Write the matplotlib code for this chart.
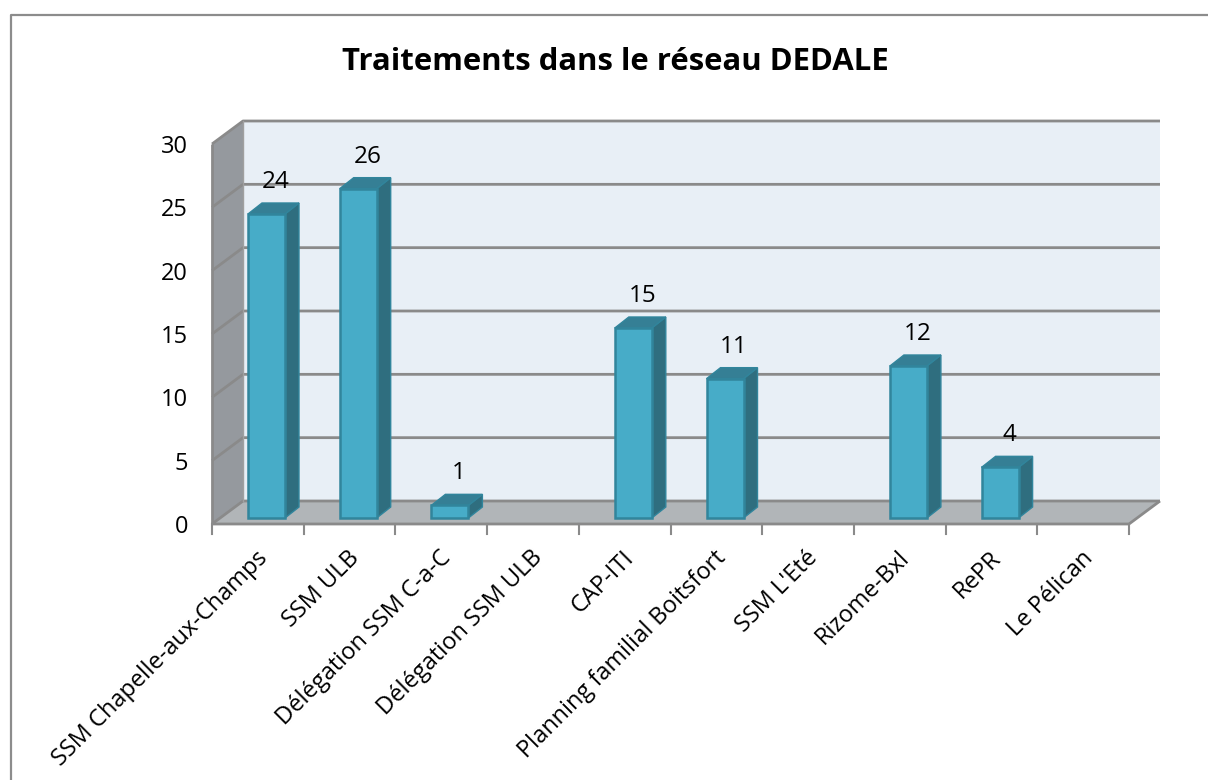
"""Traitements dans le reseau DEDALE, fake 3D columns.
"""
import matplotlib
matplotlib.use('Agg')
import matplotlib.pyplot as plt
from matplotlib.patches import Polygon

categories = ['SSM Chapelle-aux-Champs', 'SSM ULB', 'Délégation SSM C-a-C',
              'Délégation SSM ULB', 'CAP-ITI', 'Planning familial Boitsfort',
              "SSM L'Eté", 'Rizome-Bxl', 'RePR', 'Le Pélican']
values = [24, 26, 1, 0, 15, 11, 0, 12, 4, 0]
y_ticks = [0, 5, 10, 15, 20, 25, 30]

W, H = 1208, 780
plt.rcParams['font.family'] = ['Open Sans', 'DejaVu Sans']

fig = plt.figure(figsize=(W / 100, H / 100), dpi=100)
# only left and top of the frame are visible
fig.add_artist(plt.Line2D([11 / W, 11 / W, 1208 / W], [0, 1 - 15 / H, 1 - 15 / H],
                          color='#8c8c8c', lw=1.6))

# axes sit on the front plane of the 3D box
ax = fig.add_axes([212 / W, 1 - 524 / H, (1129 - 212) / W, 380 / H])
n = len(categories)
ax.set_xlim(0, n)
ax.set_ylim(0, 30)
ax.axis('off')

px = n / 917  # one pixel in x units
py = 30 / 380  # one pixel in y units
depth_x = 31 * px
depth_y = 23 * py


def poly(points, fc, ec='none', lw=0, z=1):
    ax.add_patch(Polygon(points, closed=True, fc=fc, ec=ec, lw=lw, zorder=z,
                         clip_on=False))


# back wall, side wall, floor
poly([(depth_x, depth_y), (n + depth_x, depth_y), (n + depth_x, 30 + depth_y),
      (depth_x, 30 + depth_y)], '#e8eff6')
poly([(0, 0), (depth_x, depth_y), (depth_x, 30 + depth_y), (0, 30)], '#95999e')
poly([(0, 0), (n, 0), (n + depth_x, depth_y), (depth_x, depth_y)], '#b1b5b8')

line = dict(color='#8a8a8a', lw=2, clip_on=False, zorder=2,
            solid_capstyle='butt')
for t in y_ticks:
    ax.plot([0, depth_x, n + depth_x], [t, t + depth_y, t + depth_y], **line)
ax.plot([0, 0], [0, 30], **line)
ax.plot([depth_x, depth_x], [depth_y, 30 + depth_y], color='#a0a0a0', lw=1,
        clip_on=False, zorder=2)
ax.plot([0, n, n + depth_x], [0, 0, depth_y], **line)

# ticks
for i in range(n + 1):
    ax.plot([i, i], [0, -10 * py], color='#8a8a8a', lw=1.5, clip_on=False)
for t in y_ticks:
    ax.text(-24 * px, t - 3 * py, str(t), ha='right', va='center', fontsize=17)

# columns
bar_left = 36 * px
bar_w = 37 * px
bar_base = 6 * py
bar_dx = 14 * px
bar_dy = 11 * py
edge = '#31859c'
for i, v in enumerate(values):
    if v == 0:
        continue
    x0 = i + bar_left
    x1 = x0 + bar_w
    y0 = bar_base
    y1 = bar_base + v
    poly([(x1, y0), (x1 + bar_dx, y0 + bar_dy), (x1 + bar_dx, y1 + bar_dy),
          (x1, y1)], '#2f6e7f', edge, 1, 3)
    poly([(x0, y1), (x1, y1), (x1 + bar_dx, y1 + bar_dy),
          (x0 + bar_dx, y1 + bar_dy)], '#357f95', edge, 1, 3)
    poly([(x0, y0), (x1, y0), (x1, y1), (x0, y1)], '#47acc8', edge, 1.8, 4)
    ax.text(x0 + bar_w / 2 + 9 * px, y1 + 20 * py, str(v), ha='center',
            va='bottom', fontsize=17.5, zorder=5)

# rotated labels, right end anchored near the tick
for i, name in enumerate(categories):
    ax.text(i + 0.55 - 7 * px, -22 * py, name, rotation=45,
            rotation_mode='anchor', ha='right', va='top', fontsize=17)

fig.text(615.5 / W, 1 - 62 / H, 'Traitements dans le réseau DEDALE',
         ha='center', va='center', fontsize=22.4, fontweight='bold')

fig.savefig('out.png', dpi=100)
